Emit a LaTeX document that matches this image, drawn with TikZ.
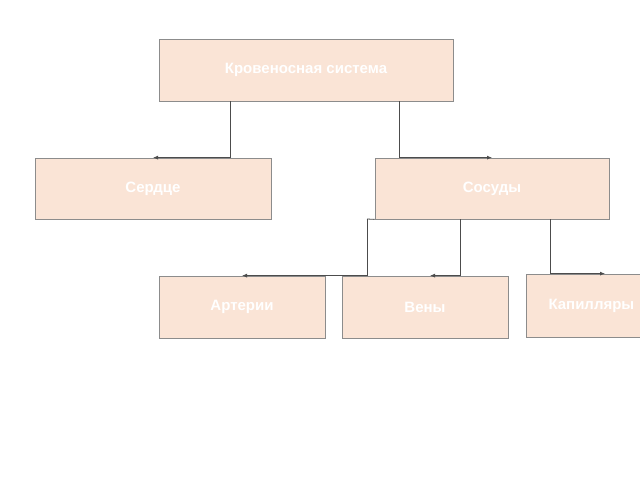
\documentclass[tikz,border=0pt]{standalone}
\usepackage{fontspec}
\setmainfont{Liberation Sans}
\usetikzlibrary{arrows.meta}
\begin{document}
\begin{tikzpicture}[x=1pt,y=-1pt,
  box/.style={draw=black!45,line width=0.8pt,fill={rgb,255:red,250;green,228;blue,214},inner sep=0pt,
    font=\bfseries\fontsize{15}{18}\selectfont,text=white},
  conn/.style={draw=black!70,line width=0.8pt,-{Latex[length=5pt,width=4pt]}}]
\useasboundingbox (0,0) rectangle (640,480);
\clip (0,0) rectangle (640,480);
\node[box,minimum width=294pt,minimum height=62pt] (top) at (306,70) {Кровеносная система};
\node[box,minimum width=236pt,minimum height=61pt] (heart) at (153,188.5) {Сердце};
\node[box,minimum width=234pt,minimum height=61pt] (vess) at (492,188.5) {Сосуды};
\node[box,minimum width=166pt,minimum height=62pt] (art) at (242,307) {Артерии};
\node[box,minimum width=166pt,minimum height=62pt] (vein) at (425,307) {Вены};
\node[box,minimum width=170pt,minimum height=63pt,anchor=west] (cap) at (526,305.5) {\hspace*{-40pt}Капилляры};
\coordinate (v0) at (367,219);
\draw[conn] (top.south -| 230,0) |- (heart.north);
\draw[conn] (top.south -| 399,0) |- (vess.north);
\draw[draw=black!70,line width=0.8pt] (vess.south west) -- (v0);
\draw[conn] (v0) |- (art.north);
\draw[conn] (vess.south -| 460,0) |- (vein.north -| 430,0);
\draw[conn] (vess.south -| 550,0) |- (cap.north -| 605,0);
\end{tikzpicture}
\end{document}
